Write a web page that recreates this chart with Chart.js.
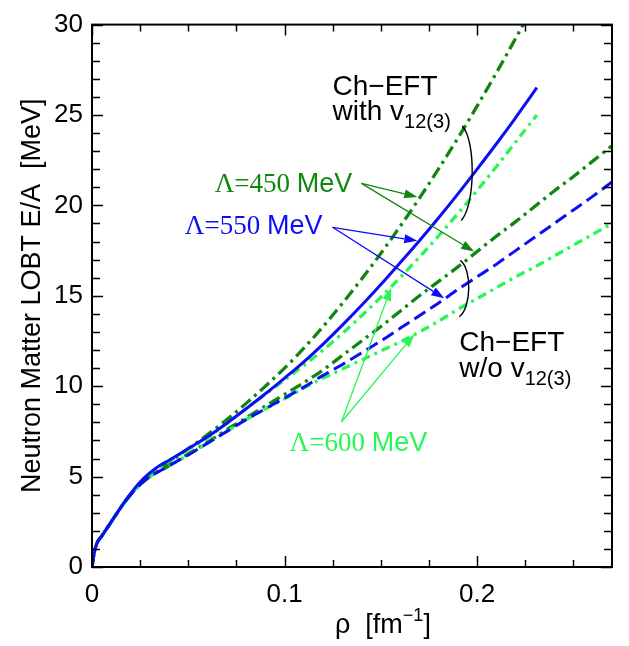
<!DOCTYPE html>
<html>
<head>
<meta charset="utf-8">
<script src="https://cdn.jsdelivr.net/npm/chart.js@4"></script>
<style>
  html, body { margin: 0; padding: 0; background: #fff; }
  #wrap { width: 629px; height: 646px; }
</style>
</head>
<body>
<div id="wrap"><canvas id="chart" width="629" height="646"></canvas></div>
<script>
// density grid (fm^-1) for the runs with v12(3), which stop at 0.231
const rhoWith = [0, 0.001, 0.0025, 0.005, 0.01, 0.015, 0.02, 0.025, 0.03, 0.035, 0.04,
  0.05, 0.06, 0.07, 0.08, 0.09, 0.10, 0.11, 0.12, 0.13, 0.14, 0.15, 0.16, 0.17, 0.18,
  0.19, 0.20, 0.21, 0.22, 0.231];
// density grid for the runs without v12(3)
const rhoWithout = [0, 0.001, 0.0025, 0.005, 0.01, 0.015, 0.02, 0.025, 0.03, 0.035, 0.04,
  0.05, 0.06, 0.07, 0.08, 0.09, 0.10, 0.11, 0.12, 0.13, 0.14, 0.15, 0.16, 0.17, 0.18,
  0.19, 0.20, 0.21, 0.22, 0.23, 0.24, 0.25, 0.26, 0.27];

// E/A in MeV
const e450With = [0, 0.7, 1.3, 1.7, 2.5, 3.3, 4.0, 4.6, 5.1, 5.45, 5.8,
  6.55, 7.32, 8.15, 9.05, 10.0, 11.0, 12.1, 13.3, 14.58, 15.93, 17.35, 18.84, 20.4, 22.03,
  23.73, 25.5, 27.34, 29.25, 31.4];
const e550With = [0, 0.7, 1.3, 1.7, 2.5, 3.3, 4.05, 4.7, 5.2, 5.6, 5.9,
  6.55, 7.2, 7.95, 8.75, 9.58, 10.45, 11.35, 12.33, 13.38, 14.48, 15.63, 16.83, 18.05, 19.32,
  20.64, 22.01, 23.41, 24.86, 26.51];
const e600With = [0, 0.7, 1.3, 1.7, 2.5, 3.3, 4.0, 4.65, 5.15, 5.5, 5.85,
  6.5, 7.15, 7.95, 8.75, 9.55, 10.35, 11.15, 12.0, 12.92, 13.9, 14.93, 16.01, 17.14, 18.32,
  19.55, 20.83, 22.15, 23.51, 25.0];

const e450Without = [0, 0.7, 1.3, 1.7, 2.5, 3.3, 4.0, 4.55, 5.0, 5.3, 5.6,
  6.25, 6.9, 7.6, 8.25, 8.9, 9.55, 10.2, 10.9, 11.7, 12.5, 13.3, 14.15, 15.0, 15.8,
  16.6, 17.45, 18.3, 19.1, 19.95, 20.8, 21.6, 22.45, 23.3];
const e550Without = [0, 0.7, 1.3, 1.7, 2.5, 3.3, 4.0, 4.55, 5.0, 5.3, 5.6,
  6.2, 6.85, 7.5, 8.15, 8.75, 9.35, 9.95, 10.6, 11.2, 11.85, 12.5, 13.2, 13.9, 14.6,
  15.35, 16.05, 16.75, 17.5, 18.25, 19.0, 19.75, 20.5, 21.3];
const e600Without = [0, 0.7, 1.3, 1.7, 2.5, 3.3, 4.0, 4.55, 5.0, 5.3, 5.6,
  6.2, 6.85, 7.5, 8.15, 8.75, 9.3, 9.9, 10.45, 10.95, 11.45, 11.95, 12.45, 13.0, 13.6,
  14.25, 14.85, 15.45, 16.05, 16.6, 17.2, 17.8, 18.4, 19.0];

const xTicks = [0, 0.1, 0.2];
const yTicks = [0, 5, 10, 15, 20, 25, 30];

const DARK = 'rgb(16,134,16)';
const BLUE = 'rgb(14,14,246)';
const LIGHT = 'rgb(40,246,84)';

const sans = '"Liberation Sans", Arial, sans-serif';
const serif = '"Liberation Serif", "Times New Roman", serif';

const pts = (xs, ys) => xs.map((x, i) => ({ x: x, y: ys[i] }));

function line(label, xs, ys, color, dash, width) {
  return {
    label: label,
    data: pts(xs, ys),
    borderColor: color,
    borderWidth: width,
    borderDash: dash,
    pointRadius: 0,
    fill: false,
    cubicInterpolationMode: 'monotone'
  };
}

// annotation helpers
function rich(ctx, x, y, parts, color) {
  ctx.fillStyle = color;
  ctx.textBaseline = 'alphabetic';
  ctx.textAlign = 'left';
  parts.forEach(p => {
    ctx.font = p.font;
    ctx.fillText(p.t, x, y + (p.dy || 0));
    x += ctx.measureText(p.t).width;
  });
}

function arrow(ctx, x0, y0, x1, y1, color) {
  const a = Math.atan2(y1 - y0, x1 - x0);
  const len = 13, hw = 4.5;
  ctx.strokeStyle = color;
  ctx.fillStyle = color;
  ctx.lineWidth = 1.3;
  ctx.setLineDash([]);
  ctx.beginPath();
  ctx.moveTo(x0, y0);
  ctx.lineTo(x1 - len * Math.cos(a), y1 - len * Math.sin(a));
  ctx.stroke();
  ctx.beginPath();
  ctx.moveTo(x1, y1);
  ctx.lineTo(x1 - len * Math.cos(a) + hw * Math.sin(a), y1 - len * Math.sin(a) - hw * Math.cos(a));
  ctx.lineTo(x1 - len * Math.cos(a) - hw * Math.sin(a), y1 - len * Math.sin(a) + hw * Math.cos(a));
  ctx.closePath();
  ctx.fill();
}

function brace(ctx, x0, y0, x1, y1, bulge) {
  ctx.strokeStyle = '#000';
  ctx.lineWidth = 1.4;
  ctx.setLineDash([]);
  ctx.beginPath();
  ctx.moveTo(x0, y0);
  const h = y1 - y0;
  ctx.bezierCurveTo(x0 + bulge, y0 + h * 0.15, x1 + bulge, y1 - h * 0.15, x1, y1);
  ctx.stroke();
}

// frame with inward major/minor ticks on all four sides
const framePlugin = {
  id: 'frame',
  afterDraw(chart) {
    const { ctx, chartArea: a, scales: { x, y } } = chart;
    ctx.save();
    ctx.strokeStyle = '#000';
    ctx.setLineDash([]);
    ctx.lineWidth = 1.5;
    for (let v = 0; v <= 0.27 + 1e-9; v += 0.025) {
      const px = Math.round(x.getPixelForValue(v)) + 0.5;
      const major = Math.abs(v / 0.1 - Math.round(v / 0.1)) < 1e-6;
      const len = major ? 11 : 7;
      ctx.beginPath();
      ctx.moveTo(px, a.bottom); ctx.lineTo(px, a.bottom - len);
      ctx.moveTo(px, a.top); ctx.lineTo(px, a.top + len);
      ctx.stroke();
    }
    for (let v = 0; v <= 30; v += 1) {
      const py = Math.round(y.getPixelForValue(v)) + 0.5;
      const len = v % 5 === 0 ? 11 : 8;
      ctx.beginPath();
      ctx.moveTo(a.left, py); ctx.lineTo(a.left + len, py);
      ctx.moveTo(a.right, py); ctx.lineTo(a.right - len, py);
      ctx.stroke();
    }
    ctx.lineWidth = 2;
    ctx.strokeRect(a.left, a.top, a.right - a.left, a.bottom - a.top);

    // axis titles
    ctx.fillStyle = '#000';
    ctx.save();
    ctx.translate(40, (a.top + a.bottom) / 2);
    ctx.rotate(-Math.PI / 2);
    ctx.font = `27px ${sans}`;
    ctx.textAlign = 'center';
    ctx.textBaseline = 'alphabetic';
    ctx.fillText('Neutron Matter LOBT E/A  [MeV]', 0, 0);
    ctx.restore();
    rich(ctx, 335, 633, [
      { t: 'ρ  [fm', font: `27px ${sans}` },
      { t: '−1', font: `18px ${sans}`, dy: -12 },
      { t: ']', font: `27px ${sans}` }
    ], '#000');
    ctx.restore();
  }
};

const notesPlugin = {
  id: 'notes',
  afterDatasetsDraw(chart) {
    const { ctx, scales: { x, y } } = chart;
    const X = v => x.getPixelForValue(v);
    const Y = v => y.getPixelForValue(v);
    ctx.save();

    const big = `28px ${sans}`;
    const sub = `20px ${sans}`;
    rich(ctx, X(0.1249), Y(26.12), [{ t: 'Ch−EFT', font: big }], '#000');
    rich(ctx, X(0.1249), Y(24.72), [{ t: 'with v', font: big }, { t: '12(3)', font: sub, dy: 8 }], '#000');
    rich(ctx, X(0.1907), Y(11.95), [{ t: 'Ch−EFT', font: big }], '#000');
    rich(ctx, X(0.1907), Y(10.5), [{ t: 'w/o v', font: big }, { t: '12(3)', font: sub, dy: 8 }], '#000');

    brace(ctx, X(0.1922), Y(24.39), X(0.1917), Y(19.17), 14);
    brace(ctx, X(0.1912), Y(16.96), X(0.1907), Y(13.84), 12);

    const lam = (v) => [{ t: 'Λ=' + v + ' ', font: `27px ${serif}` }, { t: 'MeV', font: `27px ${sans}` }];
    rich(ctx, X(0.0637), Y(20.73), lam(450), DARK);
    rich(ctx, X(0.0482), Y(18.42), lam(550), BLUE);
    rich(ctx, X(0.1026), Y(6.41), lam(600), LIGHT);

    arrow(ctx, X(0.1399), Y(21.22), X(0.1689), Y(20.46), DARK);
    arrow(ctx, X(0.1399), Y(21.22), X(0.1984), Y(17.45), DARK);
    arrow(ctx, X(0.1249), Y(18.79), X(0.1689), Y(18.04), BLUE);
    arrow(ctx, X(0.1249), Y(18.79), X(0.1829), Y(14.86), BLUE);
    arrow(ctx, X(0.1295), Y(8.02), X(0.1554), Y(15.45), LIGHT);
    arrow(ctx, X(0.1295), Y(8.02), X(0.1674), Y(12.87), LIGHT);
    ctx.restore();
  }
};

const ctx = document.getElementById('chart').getContext('2d');

const chart = new Chart(ctx, {
  type: 'line',
  data: {
    datasets: [
      line('550 MeV with v12(3)', rhoWith, e550With, BLUE, [], 3),
      line('550 MeV w/o v12(3)', rhoWithout, e550Without, BLUE, [13, 6], 3),
      line('600 MeV with v12(3)', rhoWith, e600With, LIGHT, [9, 5, 3, 5], 3.3),
      line('600 MeV w/o v12(3)', rhoWithout, e600Without, LIGHT, [9, 5, 3, 5], 3.3),
      line('450 MeV with v12(3)', rhoWith, e450With, DARK, [12, 5, 3, 5], 3.3),
      line('450 MeV w/o v12(3)', rhoWithout, e450Without, DARK, [12, 5, 3, 5], 3.3)
    ]
  },
  options: {
    responsive: false,
    animation: false,
    devicePixelRatio: 1,
    layout: { padding: { top: 10, right: 17, left: 0, bottom: 0 } },
    plugins: {
      legend: { display: false },
      tooltip: { enabled: false }
    },
    scales: {
      x: {
        type: 'linear',
        min: 0,
        max: 0.27,
        grid: { display: false, drawTicks: false },
        border: { display: false },
        afterBuildTicks: s => { s.ticks = xTicks.map(v => ({ value: v })); },
        afterFit: s => { s.height = 79; },
        ticks: {
          padding: 12,
          color: '#000',
          font: { family: sans, size: 26 },
          maxRotation: 0,
          callback: v => String(v)
        }
      },
      y: {
        type: 'linear',
        min: 0,
        max: 30,
        grid: { display: false, drawTicks: false },
        border: { display: false },
        afterBuildTicks: s => { s.ticks = yTicks.map(v => ({ value: v })); },
        afterFit: s => { s.width = 92; },
        ticks: {
          padding: 9,
          color: '#000',
          font: { family: sans, size: 26 }
        }
      }
    }
  },
  plugins: [framePlugin, notesPlugin]
});
</script>
</body>
</html>
